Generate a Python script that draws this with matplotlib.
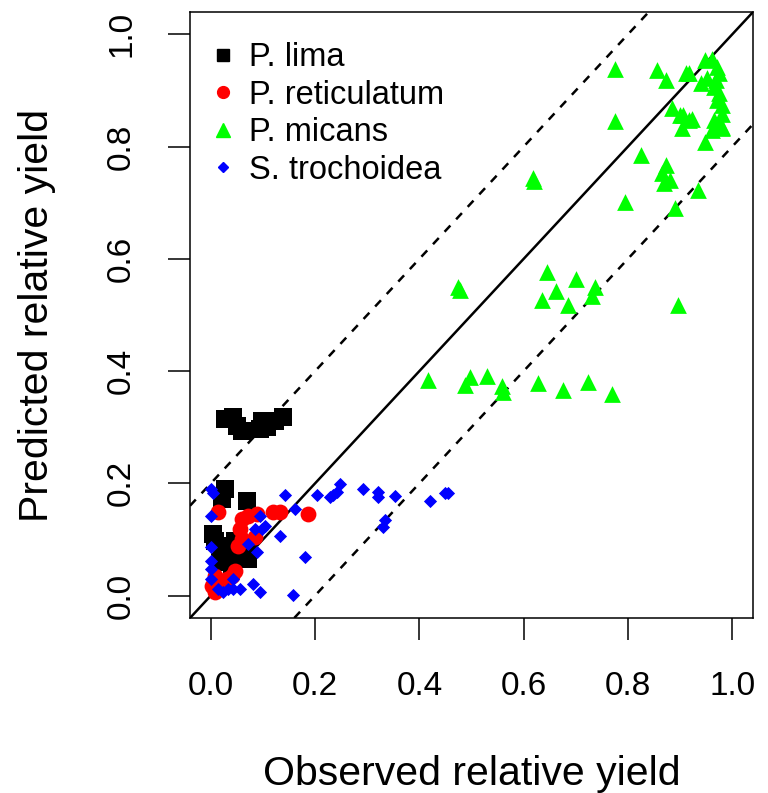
import numpy as np
import matplotlib
matplotlib.use("Agg")
import matplotlib.pyplot as plt
from matplotlib.lines import Line2D

plt.rcParams['font.family'] = ['Liberation Sans', 'DejaVu Sans']

# P. lima (черные квадраты)
lima_x = [0.027, 0.043, 0.050, 0.060, 0.094, 0.098, 0.108, 0.123, 0.138,
          0.027, 0.022, 0.070, 0.004, 0.008, 0.022, 0.033, 0.027, 0.052,
          0.070, 0.071, 0.041, 0.018, 0.047]
lima_y = [0.314, 0.318, 0.302, 0.293, 0.296, 0.311, 0.300, 0.311, 0.318,
          0.189, 0.172, 0.168, 0.110, 0.097, 0.088, 0.077, 0.065, 0.071,
          0.074, 0.065, 0.053, 0.060, 0.097]

# P. reticulatum (красные круги)
ret_x = [0.014, 0.060, 0.071, 0.089, 0.120, 0.133, 0.187, 0.056, 0.060,
         0.085, 0.052, 0.008, 0.002, 0.008, 0.031, 0.041, 0.022, 0.047]
ret_y = [0.148, 0.136, 0.142, 0.145, 0.148, 0.148, 0.145, 0.119, 0.101,
         0.105, 0.088, 0.035, 0.017, 0.007, 0.030, 0.035, 0.024, 0.044]

# P. micans (зеленые треугольники)
mic_x = [0.474, 0.477, 0.644, 0.700, 0.736, 0.732, 0.663, 0.635, 0.685,
         0.416, 0.487, 0.497, 0.529, 0.558, 0.560, 0.627, 0.675, 0.723,
         0.769, 0.617, 0.620,
         0.775, 0.855, 0.874, 0.912, 0.775, 0.884, 0.905, 0.922, 0.903,
         0.947, 0.826, 0.874, 0.865, 0.880, 0.870, 0.794, 0.934, 0.890,
         0.896,
         0.918, 0.947, 0.962, 0.971, 0.975, 0.969, 0.966, 0.975, 0.971,
         0.981, 0.941, 0.952, 0.918, 0.975, 0.981, 0.962, 0.980, 0.966,
         0.981, 0.900]
mic_y = [0.550, 0.545, 0.577, 0.564, 0.549, 0.533, 0.542, 0.527, 0.518,
         0.385, 0.376, 0.389, 0.391, 0.373, 0.362, 0.379, 0.367, 0.381,
         0.359, 0.744, 0.739,
         0.939, 0.936, 0.918, 0.931, 0.846, 0.868, 0.856, 0.850, 0.833,
         0.809, 0.785, 0.768, 0.753, 0.740, 0.735, 0.701, 0.722, 0.690,
         0.518,
         0.931, 0.954, 0.957, 0.942, 0.931, 0.919, 0.906, 0.895, 0.883,
         0.874, 0.913, 0.923, 0.847, 0.841, 0.833, 0.829, 0.859, 0.847,
         0.835, 0.856]

# S. trochoidea (синие ромбы)
tro_x = [0.000, 0.004, 0.142, 0.204, 0.228, 0.242, 0.248, 0.234, 0.292,
         0.321, 0.321, 0.353, 0.420, 0.449, 0.455, 0.334, 0.330, 0.181,
         0.161, 0.158, 0.000, 0.094, 0.104, 0.133, 0.089, 0.081, 0.094,
         0.000, 0.000, 0.000, 0.024, 0.043, 0.043, 0.056, 0.014, 0.085,
         0.098, 0.071, 0.000, 0.033]
tro_y = [0.190, 0.182, 0.180, 0.180, 0.175, 0.184, 0.199, 0.180, 0.190,
         0.184, 0.175, 0.177, 0.168, 0.182, 0.182, 0.134, 0.123, 0.069,
         0.154, 0.001, 0.142, 0.142, 0.124, 0.106, 0.078, 0.021, 0.007,
         0.087, 0.062, 0.030, 0.007, 0.012, 0.030, 0.012, 0.012, 0.118,
         0.118, 0.092, 0.047, 0.012]

labels = ['P. lima', 'P. reticulatum', 'P. micans', 'S. trochoidea']

fig = plt.figure(figsize=(7.68, 7.93), dpi=100)
ax = fig.add_axes([0.2474, 0.2207, 0.7331, 0.7642])

# Линии 1:1 и +-0.2
ax.axline((0, 0), slope=1, color='black', lw=1.8)
ax.axline((0, 0.2), slope=1, color='black', lw=1.8, dashes=(3.4, 3.4))
ax.axline((0, -0.2), slope=1, color='black', lw=1.8, dashes=(3.4, 3.4))

ax.scatter(lima_x, lima_y, marker='s', s=150, color='black', linewidths=0, zorder=3)
ax.scatter(ret_x, ret_y, marker='o', s=130, color='red', linewidths=0, zorder=3)
ax.scatter(mic_x, mic_y, marker='^', s=145, color='#00ff00', linewidths=0, zorder=3)
ax.scatter(tro_x, tro_y, marker='D', s=45, color='blue', linewidths=0, zorder=3)

ax.set_xlim(-0.04, 1.04)
ax.set_ylim(-0.04, 1.04)
ticks = [0.0, 0.2, 0.4, 0.6, 0.8, 1.0]
ax.set_xticks(ticks)
ax.set_yticks(ticks)
ax.set_xticklabels(['%.1f' % t for t in ticks])
ax.set_yticklabels(['%.1f' % t for t in ticks], rotation=90, va='center')
ax.tick_params(length=16, width=1.1, labelsize=24, pad=22)
for sp in ax.spines.values():
    sp.set_linewidth(1.1)

ax.set_xlabel('Observed relative yield', fontsize=29.5, labelpad=38)
ax.set_ylabel('Predicted relative yield', fontsize=29.5, labelpad=36)

# Легенда
handles = [
    Line2D([], [], ls='none', marker='s', ms=8.5, color='black'),
    Line2D([], [], ls='none', marker='o', ms=8.5, color='red'),
    Line2D([], [], ls='none', marker='^', ms=9.5, color='#00ff00'),
    Line2D([], [], ls='none', marker='D', ms=4.8, color='blue'),
]
ax.legend(handles, labels, loc='upper left', bbox_to_anchor=(-0.008, 0.988),
          frameon=False, fontsize=23.5, handlelength=0.9, handletextpad=0.35,
          labelspacing=0.2, borderaxespad=0.3)

plt.savefig('out.png', dpi=100)
